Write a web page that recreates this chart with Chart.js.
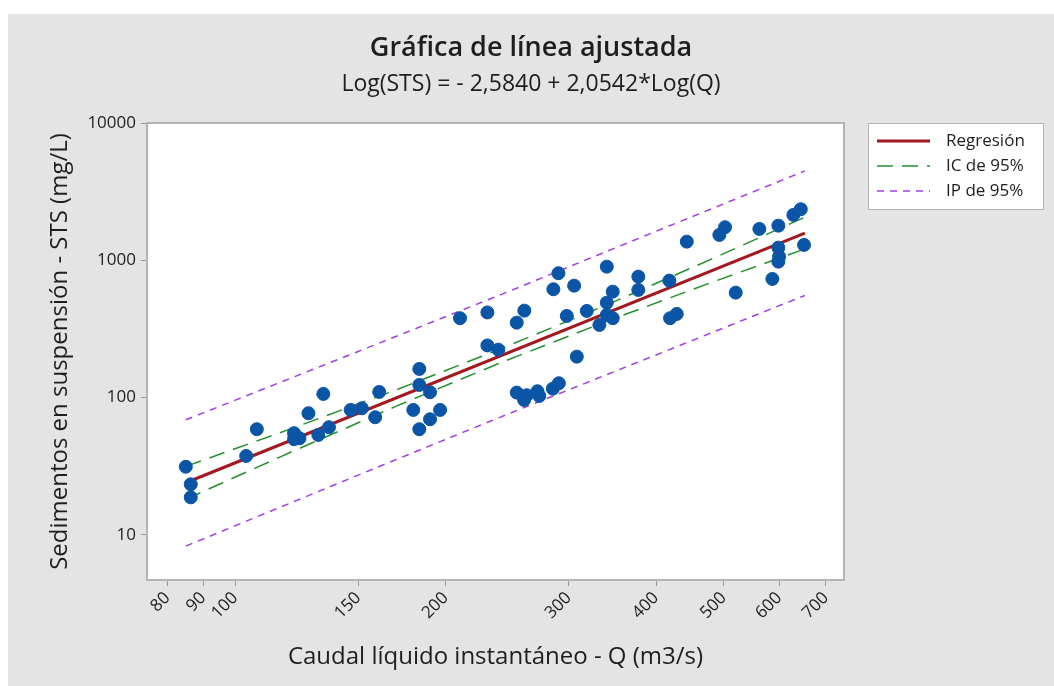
<!DOCTYPE html>
<html>
<head>
<meta charset="utf-8">
<script src="https://cdn.jsdelivr.net/npm/chart.js@4.4.1/dist/chart.umd.min.js"></script>
<style>
  html, body { margin: 0; padding: 0; background: #fff; }
  canvas { display: block; }
</style>
</head>
<body>
<canvas id="fitChart" width="1054" height="686"></canvas>
<script>
// observed points (caudal Q, m3/s ; STS, mg/L)
const qObs = [85.0, 86.4, 86.4, 103.7, 107.4, 121.4, 121.4, 123.6, 127.3, 131.5,
  133.7, 136.2, 146.3, 151.8, 158.6, 160.7, 179.8, 183.4, 183.4, 183.4,
  190.0, 190.0, 196.4, 209.7, 229.5, 229.5, 237.9, 252.8, 259.2, 285.2,
  290.0, 305.4, 298.1, 318.4, 331.9, 340.1, 340.1, 346.8, 340.1, 346.8,
  377.3, 377.3, 417.9, 418.9, 428.2, 442.6, 492.7, 502.0, 520.0, 562.1,
  586.7, 598.4, 598.4, 599.8, 598.4, 628.7, 644.2, 651.2, 308.1, 252.8,
  259.0, 261.3, 270.6, 272.3, 284.7, 290.4];
const stsObs = [31.4, 23.4, 18.8, 37.6, 58.9, 55.1, 49.8, 50.6, 77.0, 53.5,
  106.4, 60.9, 81.4, 83.7, 72.0, 110.0, 81.4, 161.8, 123.7, 58.9,
  69.6, 109.5, 81.4, 378.8, 417.4, 240.0, 223.7, 351.8, 430.2, 615.9,
  805.4, 654.1, 393.6, 428.1, 338.4, 491.9, 899.6, 591.6, 400.3, 378.8,
  760.8, 608.7, 711.6, 378.8, 407.1, 1368, 1531, 1742, 581.8, 1693,
  731.9, 1789, 1237, 1064, 978.4, 2141, 2356, 1295, 198.9, 108.8,
  96.2, 104.1, 111.3, 102.9, 116.3, 127.3];

// fitted line and bands
const fitQ = [85, 653];
const fitSts = [24.0, 1580];
const ciQ = [85, 120, 170, 240, 340, 480, 653];
const ciUpper = [31.6, 59.2, 114, 227, 474, 1020, 2060];
const ciLower = [18.2, 40.0, 86.7, 180, 360, 690, 1210];
const piQ = [85, 150, 240, 400, 653];
const piUpper = [69, 217, 563, 1627, 4480];
const piLower = [8.3, 27.3, 72.5, 204.6, 555];

const xTicks = [80, 90, 100, 150, 200, 300, 400, 500, 600, 700];
const yTicks = [10, 100, 1000, 10000];

const FONT = "'Open Sans', 'Noto Sans', sans-serif";
const TXT = "#1e1e1e";

const pairs = (xs, ys) => xs.map((x, i) => ({ x: x, y: ys[i] }));

const pageBackground = {
    id: "pageBackground",
    beforeDraw(chart) {
        const ctx = chart.ctx, a = chart.chartArea;
        ctx.save();
        ctx.fillStyle = "#ffffff";
        ctx.fillRect(0, 0, chart.width, chart.height);
        ctx.fillStyle = "#e4e4e4";
        ctx.fillRect(8, 14, chart.width - 8, chart.height - 14);
        ctx.fillStyle = "#ffffff";
        ctx.fillRect(a.left, a.top, a.right - a.left, a.bottom - a.top);
        ctx.restore();
    },
    afterDraw(chart) {
        const ctx = chart.ctx, a = chart.chartArea;
        ctx.save();
        ctx.strokeStyle = "#b4b4b4";
        ctx.lineWidth = 2;
        ctx.strokeRect(a.left, a.top, a.right - a.left, a.bottom - a.top);
        ctx.restore();
    }
};

const boxLegend = {
    id: "boxLegend",
    afterDraw(chart) {
        const ctx = chart.ctx;
        const left = 868, top = 123, w = 175, h = 86;
        ctx.save();
        ctx.fillStyle = "#ffffff";
        ctx.fillRect(left, top, w, h);
        ctx.strokeStyle = "#b4b4b4";
        ctx.lineWidth = 1;
        ctx.strokeRect(left + 0.5, top + 0.5, w, h);
        const items = chart.data.datasets.filter(d => d.legendText);
        items.forEach((d, i) => {
            const y = 141 + i * 25;
            ctx.strokeStyle = d.borderColor;
            ctx.lineWidth = d.borderWidth;
            ctx.setLineDash(d.borderDash || []);
            ctx.beginPath();
            ctx.moveTo(877, y);
            ctx.lineTo(930, y);
            ctx.stroke();
            ctx.setLineDash([]);
            ctx.fillStyle = TXT;
            ctx.font = "17px " + FONT;
            ctx.textBaseline = "middle";
            ctx.fillText(d.legendText, 946, y);
        });
        ctx.restore();
    }
};

new Chart(document.getElementById("fitChart"), {
    type: "scatter",
    data: {
        datasets: [{
            label: "Datos",
            data: pairs(qObs, stsObs),
            backgroundColor: "#0a55a6",
            borderColor: "#0a55a6",
            pointRadius: 6.5,
            order: 0
        }, {
            label: "Regresión",
            legendText: "Regresión",
            type: "line",
            data: pairs(fitQ, fitSts),
            borderColor: "#a3181f",
            borderWidth: 3,
            pointRadius: 0,
            order: 1
        }, {
            label: "IC de 95%",
            legendText: "IC de 95%",
            type: "line",
            data: pairs(ciQ, ciUpper),
            borderColor: "#23902f",
            borderWidth: 1.5,
            borderDash: [16, 9],
            pointRadius: 0,
            order: 2
        }, {
            label: "IC inferior",
            type: "line",
            data: pairs(ciQ, ciLower),
            borderColor: "#23902f",
            borderWidth: 1.5,
            borderDash: [16, 9],
            pointRadius: 0,
            order: 2
        }, {
            label: "IP de 95%",
            legendText: "IP de 95%",
            type: "line",
            data: pairs(piQ, piUpper),
            borderColor: "#a23ee0",
            borderWidth: 1.5,
            borderDash: [7, 6],
            pointRadius: 0,
            order: 3
        }, {
            label: "IP inferior",
            type: "line",
            data: pairs(piQ, piLower),
            borderColor: "#a23ee0",
            borderWidth: 1.5,
            borderDash: [7, 6],
            pointRadius: 0,
            order: 3
        }]
    },
    options: {
        responsive: false,
        animation: false,
        layout: {
            padding: { top: 14, left: 8, right: 0, bottom: 0 }
        },
        plugins: {
            legend: { display: false },
            tooltip: { enabled: false },
            title: {
                display: true,
                text: "Gráfica de línea ajustada",
                color: TXT,
                font: { family: FONT, size: 27, weight: "600" },
                padding: { top: 18, bottom: 0 }
            },
            subtitle: {
                display: true,
                text: "Log(STS) = - 2,5840 + 2,0542*Log(Q)",
                color: TXT,
                font: { family: FONT, size: 23 },
                padding: { top: 6, bottom: 25 }
            }
        },
        scales: {
            x: {
                type: "logarithmic",
                min: 74.8,
                max: 742.8,
                afterBuildTicks: function (scale) {
                    scale.ticks = xTicks.map(v => ({ value: v }));
                },
                afterFit: function (scale) {
                    scale.height = 106;
                },
                ticks: {
                    autoSkip: false,
                    minRotation: 45,
                    maxRotation: 45,
                    padding: 2,
                    color: TXT,
                    font: { family: FONT, size: 17 },
                    callback: function (value) {
                        return String(value);
                    }
                },
                grid: {
                    drawOnChartArea: false,
                    tickLength: 6,
                    color: "#9a9a9a"
                },
                border: { display: false },
                title: {
                    display: true,
                    text: "Caudal líquido instantáneo - Q (m3/s)",
                    color: TXT,
                    font: { family: FONT, size: 24 },
                    padding: { top: 0, bottom: 14.5 }
                }
            },
            y: {
                type: "logarithmic",
                min: 4.7,
                max: 10000,
                afterBuildTicks: function (scale) {
                    scale.ticks = yTicks.map(v => ({ value: v }));
                },
                afterFit: function (scale) {
                    scale.width = 139;
                },
                ticks: {
                    padding: 5,
                    color: TXT,
                    font: { family: FONT, size: 17 },
                    callback: function (value) {
                        return String(value);
                    }
                },
                grid: {
                    drawOnChartArea: false,
                    tickLength: 6,
                    color: "#9a9a9a"
                },
                border: { display: false },
                title: {
                    display: true,
                    text: "Sedimentos en suspensión - STS (mg/L)",
                    color: TXT,
                    font: { family: FONT, size: 24 },
                    padding: { top: 37.5, bottom: 0 }
                }
            },
            // empty strip on the right that leaves room for the legend box
            legendRoom: {
                type: "linear",
                position: "right",
                display: true,
                afterFit: function (scale) {
                    scale.width = 210;
                },
                ticks: { display: false },
                grid: { display: false },
                border: { display: false }
            }
        }
    },
    plugins: [pageBackground, boxLegend]
});
</script>
</body>
</html>
